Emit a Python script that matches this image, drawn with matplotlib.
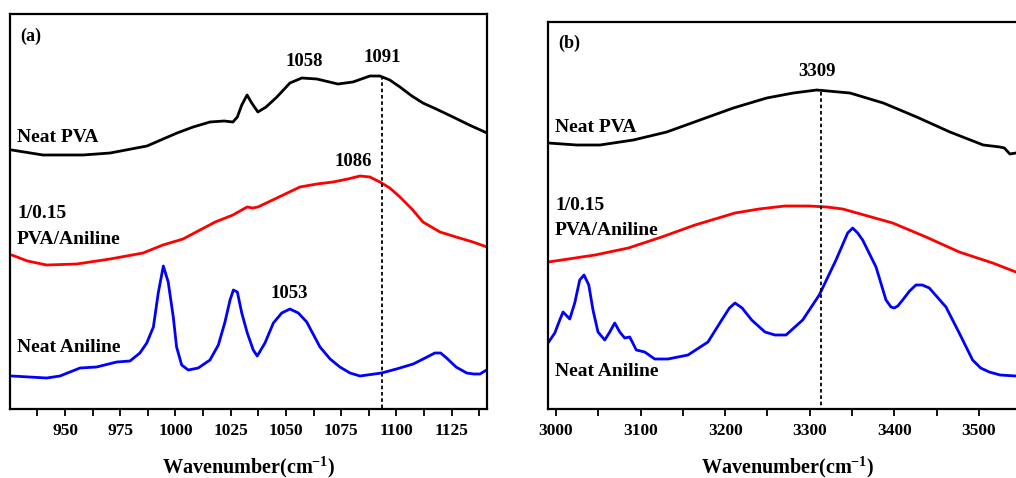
import matplotlib
matplotlib.use("Agg")
import matplotlib.pyplot as plt
from matplotlib.ticker import MultipleLocator

plt.rcParams['font.family'] = ['Liberation Serif', 'DejaVu Serif']
plt.rcParams['font.weight'] = 'bold'
plt.rcParams['mathtext.fontset'] = 'custom'
plt.rcParams['mathtext.rm'] = 'Liberation Serif:bold'
plt.rcParams['mathtext.bf'] = 'Liberation Serif:bold'
plt.rcParams['mathtext.default'] = 'bf'
plt.rcParams['lines.solid_joinstyle'] = 'round'
plt.rcParams['lines.solid_capstyle'] = 'round'

# ---- Panel (a) data ----
a_pva_x = [925.9, 940, 958.1, 970.4, 987.1, 1000.7, 1008, 1015.6, 1022, 1026, 1028, 1030, 1032.4,
           1034.5, 1037.3, 1041, 1045.9, 1051.8, 1057.2, 1064, 1073.5, 1080.3, 1088, 1092.5,
           1097, 1101.6, 1107, 1112, 1118, 1125.6, 1133, 1141]
a_pva_y = [259, 254, 254, 256, 263, 276, 282, 287, 288, 287, 292, 304, 314,
           306, 297, 302, 312, 326, 331, 330, 325, 327, 333, 333,
           329, 322, 313, 306, 300, 292, 284, 276]

a_mix_x = [925.9, 933, 941.7, 955.3, 970.4, 985.3, 994.3, 1003.4, 1011.1, 1018, 1026, 1030, 1032.4,
           1035, 1037.3, 1045.9, 1056.3, 1064, 1071.3, 1078, 1083.5, 1088, 1092.5, 1097, 1101.6,
           1107, 1112, 1119.7, 1127, 1134.6, 1141]
a_mix_y = [154, 148, 144, 145, 150, 156, 164, 170, 179, 187, 194, 199, 202,
           201, 202, 211, 222, 225, 227, 230, 233, 232, 227, 221, 212,
           200, 187, 177, 172, 167, 162]

a_ani_x = [925.9, 941.7, 947.7, 956.8, 964.3, 973.4, 979.4, 983.9, 987.0, 990.0, 992.2, 994.5,
           996.7, 999.0, 1000.5, 1002.8, 1005.8, 1010.3, 1015.6, 1019.4, 1022.4, 1024.7, 1026.2,
           1028.0, 1030.0, 1032.5, 1035.2, 1037.0, 1040.5, 1044.3, 1048.1, 1051.8, 1055.6, 1059.4,
           1065.4, 1070, 1074.4, 1079, 1083.5, 1093.3, 1100, 1107.6, 1113, 1117.4, 1120, 1122.7,
           1127, 1131.8, 1135, 1137.8, 1140.8]
a_ani_y = [33, 31, 33, 41, 42, 47, 48, 56, 66, 82, 116, 143,
           127, 92, 62, 44, 39, 41, 49, 64, 87, 109, 119,
           117, 96, 76, 59, 53, 66, 86, 96, 100, 96, 87,
           62, 50, 42, 36, 33, 36, 40, 45, 51, 56, 56, 51,
           42, 36, 35, 35, 39]

# ---- Panel (b) data ----
b_pva_x = [2990.9, 3024.5, 3052, 3091.4, 3130.9, 3170.2, 3209.6, 3249.1, 3280.5, 3308.2,
           3347.5, 3386.9, 3426.4, 3465.7, 3505.1, 3524.8, 3530, 3536.6, 3543.7]
b_pva_y = [266, 264, 264, 269, 277, 289, 301, 311, 316, 319,
           316, 306, 292, 277, 264, 262, 261, 255, 256]

b_mix_x = [2990.9, 3046.1, 3085.5, 3124.9, 3164.3, 3211.6, 3240, 3260, 3270.7, 3299.4, 3320,
           3338.9, 3360, 3398, 3437.4, 3476.7, 3516.2, 3543.7]
b_mix_y = [147, 154, 161, 172, 184, 196, 200, 202, 203, 203, 202,
           200, 195, 186, 172, 157, 146, 137]

b_ani_x = [2990.5, 2998.5, 3004.4, 3008.3, 3016.2, 3022.1, 3028.0, 3033.1, 3038.7, 3043.7,
           3049.6, 3057.6, 3063.5, 3069.4, 3075.3, 3081.2, 3087.1, 3094.9, 3104.8, 3116.7,
           3132.4, 3156.0, 3179.6, 3195.9, 3205, 3211.6, 3220, 3231.3, 3247, 3258.9, 3271.9,
           3291.6, 3311.2, 3331, 3344.8, 3350.7, 3356.6, 3362.5, 3378.3, 3390.1, 3396, 3399.9,
           3404, 3409.8, 3418, 3425.5, 3433, 3441.3, 3461, 3476.7, 3492.5, 3502, 3512.2, 3525,
           3543.7]
b_ani_y = [66, 76, 89, 97, 90, 106, 129, 134, 124, 99,
           77, 69, 77, 86, 77, 71, 72, 59, 57, 50,
           50, 54, 67, 89, 101, 106, 101, 89, 77, 74, 74,
           89, 114, 149, 176, 181, 176, 169, 142, 109, 102, 101,
           103, 109, 118, 124, 124, 121, 102, 76, 49, 41, 37, 34,
           33]

a_peaks = [("1058", 1058.5, 61), ("1091", 1093.5, 58), ("1086", 1080.5, 162), ("1053", 1051.5, 293)]
b_peaks = [("3309", 3308, 72)]

W, H = 1016, 478
fig = plt.figure(figsize=(W / 100, H / 100), dpi=100)

def px_axes(x0, y0, x1, y1):
    return fig.add_axes([x0 / W, 1 - y1 / H, (x1 - x0) / W, (y1 - y0) / H])

ax1 = px_axes(10, 14, 487, 409)
ax2 = px_axes(548, 22, 1028, 409)

lw = 2.0
ax1.plot(a_pva_x, a_pva_y, color='black', lw=lw)
ax1.plot(a_mix_x, a_mix_y, color='#ff0000', lw=lw)
ax1.plot(a_ani_x, a_ani_y, color='#0000ff', lw=lw)
ax1.set_xlim(925.1, 1141)
ax1.set_ylim(0, 395)
ax1.plot([1093.3, 1093.3], [333, 0], color='black', lw=1.3, ls=(0, (2, 1.5)))

ax2.plot(b_pva_x, b_pva_y, color='black', lw=lw)
ax2.plot(b_mix_x, b_mix_y, color='#ff0000', lw=lw)
ax2.plot(b_ani_x, b_ani_y, color='#0000ff', lw=lw)
ax2.set_xlim(2990.5, 3558)
ax2.set_ylim(0, 387)
ax2.plot([3313, 3313], [317, 0], color='black', lw=1.3, ls=(0, (2, 1.5)))

for ax in (ax1, ax2):
    ax.set_yticks([])
    for s in ax.spines.values():
        s.set_linewidth(1.6)
    ax.tick_params(axis='x', which='both', direction='out', length=5, width=1.3,
                   labelsize=12.5, pad=5)
    ax.set_xlabel('Wavenumber(cm$^{-1}$)', fontsize=14.5, fontweight='bold')
    ax.xaxis.label.set_va('center')
    for lab in ax.get_xticklabels():
        lab.set_fontweight('bold')

ax2.spines['right'].set_visible(False)
ax1.xaxis.set_major_locator(MultipleLocator(25))
ax1.xaxis.set_minor_locator(MultipleLocator(12.5))
ax2.xaxis.set_major_locator(MultipleLocator(100))
ax2.xaxis.set_minor_locator(MultipleLocator(50))
ax1.xaxis.set_label_coords(0.5, -(467 - 409) / 395)
ax2.xaxis.set_label_coords((788 - 548) / 480, -(467 - 409) / 387)

def ftxt(x, y, s, size=14, ha='left'):
    fig.text(x / W, 1 - y / H, s, fontsize=size, fontweight='bold', ha=ha, va='center')

ftxt(20, 36, '(a)', 13)
ftxt(17, 138, 'Neat PVA')
ftxt(17, 213, '1/0.15')
ftxt(17, 240, 'PVA/Aniline')
ftxt(17, 348, 'Neat Aniline')

ftxt(558, 43, '(b)', 13)
ftxt(555, 127, 'Neat PVA')
ftxt(555, 205, '1/0.15')
ftxt(555, 231, 'PVA/Aniline')
ftxt(555, 371, 'Neat Aniline')

for s, x, y in a_peaks:
    ax1.annotate(s, xy=(x, 409 - y), ha='center', va='center', fontsize=13.5, fontweight='bold')
for s, x, y in b_peaks:
    ax2.annotate(s, xy=(x, 409 - y), ha='center', va='center', fontsize=13.5, fontweight='bold')

fig.savefig('out.png', dpi=100)
